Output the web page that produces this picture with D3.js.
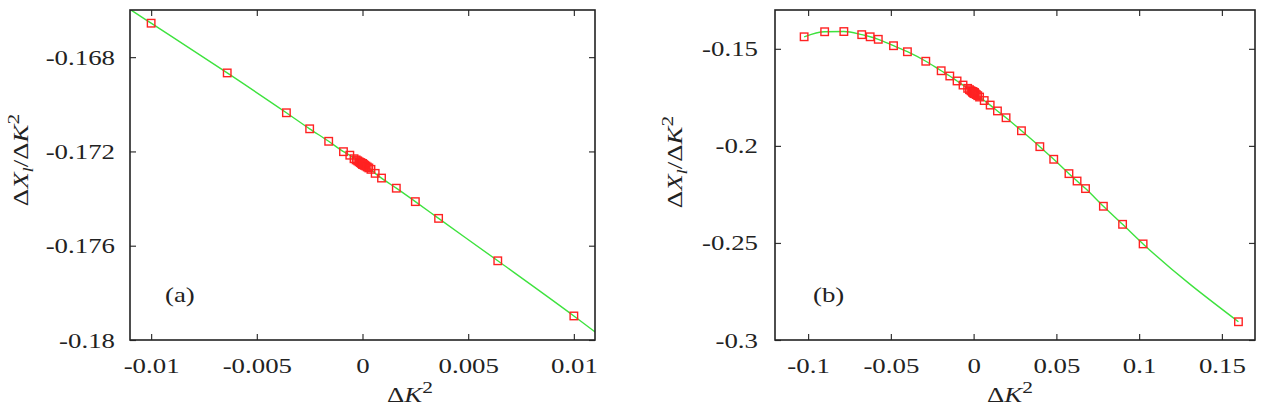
<!DOCTYPE html>
<html>
<head>
<meta charset="utf-8">
<script src="https://cdn.jsdelivr.net/npm/d3@7"></script>
<style>
  body { margin: 0; background: #fff; }
  svg { display: block; }
</style>
</head>
<body>
<div id="chart"></div>
<script>
// data: DeltaK^2 and DeltaX_l / DeltaK^2
var dk2 = [-0.1024, -0.09, -0.0784, -0.0676, -0.0625, -0.0576, -0.0484, -0.04, -0.0289, -0.0196, -0.0144,
  -0.01, -0.0064, -0.0036, -0.0025, -0.0016, -0.0009, -0.0006, -0.0004,
  -0.0003, -0.000225, -0.00016, -0.0001, -0.000064, -0.000036, -0.000016, -0.000004, 0,
  0.000004, 0.000016, 0.000036, 0.000064, 0.0001, 0.00016, 0.000225, 0.0003,
  0.0004, 0.0006, 0.0009, 0.0016, 0.0025, 0.0036, 0.0064, 0.01,
  0.0144, 0.0196, 0.0289, 0.04, 0.0484, 0.0576, 0.0625, 0.0676, 0.0784, 0.09, 0.1024, 0.16];
var ratio = [-0.1438, -0.1412, -0.1411, -0.1427, -0.1438, -0.1451, -0.1484, -0.1515, -0.1564, -0.1613, -0.1640,
  -0.16656, -0.16867, -0.17036, -0.17104, -0.17157, -0.17201, -0.17216, -0.17231,
  -0.17236, -0.1724, -0.17244, -0.17247, -0.17249, -0.17251, -0.17252, -0.17253, -0.17253,
  -0.17253, -0.17254, -0.17255, -0.17257, -0.17259, -0.17262, -0.17266, -0.1727,
  -0.17276, -0.17293, -0.17313, -0.17356, -0.17413, -0.17484, -0.17664, -0.17898,
  -0.1820, -0.1855, -0.1922, -0.2004, -0.2069, -0.2143, -0.2181, -0.2220, -0.2311, -0.2404, -0.2505, -0.2906];

var xTicksA = [-0.01, -0.005, 0, 0.005, 0.01];
var xTickLabelsA = ["-0.01", "-0.005", "0", "0.005", "0.01"];
var yTicksA = [-0.168, -0.172, -0.176, -0.18];
var yTickLabelsA = ["-0.168", "-0.172", "-0.176", "-0.18"];

var xTicksB = [-0.1, -0.05, 0, 0.05, 0.1, 0.15];
var xTickLabelsB = ["-0.1", "-0.05", "0", "0.05", "0.1", "0.15"];
var yTicksB = [-0.15, -0.2, -0.25, -0.3];
var yTickLabelsB = ["-0.15", "-0.2", "-0.25", "-0.3"];

var points = dk2.map((d, i) => ({ x: d, y: ratio[i] }));

var FONT = "'Liberation Serif', 'Times New Roman', Times, serif";
var FS = 22;
var STRETCH = 1.22; // the original lettering is a bit wider than Liberation Serif

var svg = d3.select("#chart").append("svg")
    .attr("width", 1275)
    .attr("height", 419);

function widen(sel) {
    sel.each(function() {
        var l = this.getComputedTextLength();
        d3.select(this).attr("textLength", l * STRETCH).attr("lengthAdjust", "spacingAndGlyphs");
    });
}

function drawPanel(o) {
    var x = d3.scaleLinear().domain(o.xDomain).range([o.left, o.right]);
    var y = d3.scaleLinear().domain(o.yDomain).range([o.bottom, o.top]);
    var g = svg.append("g");

    g.append("clipPath").attr("id", o.id)
      .append("rect")
      .attr("x", o.left).attr("y", o.top)
      .attr("width", o.right - o.left).attr("height", o.bottom - o.top);

    // ticks, inward, mirrored
    var fmtX = d => o.xLabels[o.xTicks.indexOf(d)];
    var fmtY = d => o.yLabels[o.yTicks.indexOf(d)];

    var ax = g.append("g").attr("transform", "translate(0," + o.bottom + ")")
      .call(d3.axisBottom(x).tickValues(o.xTicks).tickFormat(fmtX).tickSize(-6).tickPadding(17));
    var axTop = g.append("g").attr("transform", "translate(0," + o.top + ")")
      .call(d3.axisTop(x).tickValues(o.xTicks).tickFormat("").tickSize(-6));
    var ay = g.append("g").attr("transform", "translate(" + o.left + ",0)")
      .call(d3.axisLeft(y).tickValues(o.yTicks).tickFormat(fmtY).tickSize(-6).tickPadding(o.yPad));
    var ayR = g.append("g").attr("transform", "translate(" + o.right + ",0)")
      .call(d3.axisRight(y).tickValues(o.yTicks).tickFormat("").tickSize(-6));

    [ax, axTop, ay, ayR].forEach(a => {
        a.select(".domain").remove();
        a.selectAll("line").attr("stroke", "#333").attr("stroke-width", 1.2);
        a.selectAll("text").attr("font-family", FONT).attr("font-size", FS).attr("fill", "#222");
    });
    widen(ax.selectAll("text"));
    widen(ay.selectAll("text"));

    // fitted curve
    var line = d3.line().x(d => x(d.x)).y(d => y(d.y)).curve(d3.curveMonotoneX);
    g.append("path")
      .datum(points)
      .attr("clip-path", "url(#" + o.id + ")")
      .attr("fill", "none")
      .attr("stroke", "#3ee23e")
      .attr("stroke-width", 1.4)
      .attr("d", line);

    // data markers
    var vis = points.filter(d => d.x >= o.xDomain[0] && d.x <= o.xDomain[1]);
    g.append("g").attr("clip-path", "url(#" + o.id + ")")
      .selectAll("rect")
      .data(vis)
      .enter().append("rect")
      .attr("x", d => x(d.x) - 3.75)
      .attr("y", d => y(d.y) - 3.75)
      .attr("width", 7.5)
      .attr("height", 7.5)
      .attr("fill", "none")
      .attr("stroke", "#f22")
      .attr("stroke-width", 1.4);

    // frame
    g.append("rect")
      .attr("x", o.left).attr("y", o.top)
      .attr("width", o.right - o.left).attr("height", o.bottom - o.top)
      .attr("fill", "none").attr("stroke", "#222").attr("stroke-width", 1.6);

    // panel tag
    var tag = g.append("text")
      .attr("x", o.tagX).attr("y", o.tagY)
      .attr("font-family", FONT).attr("font-size", FS).attr("fill", "#222")
      .text(o.tag);
    widen(tag);

    // x label
    var xl = g.append("text")
      .attr("x", o.xLabelX).attr("y", 402)
      .attr("font-family", FONT).attr("font-size", FS).attr("fill", "#222");
    xl.append("tspan").text("\u0394");
    xl.append("tspan").attr("font-style", "italic").text("K");
    xl.append("tspan").attr("font-size", FS * 0.8).attr("dy", -9).text("2");
    widen(xl);

    // y label
    var yl = g.append("text")
      .attr("transform", "translate(" + o.yLabelX + "," + o.yLabelY + ") rotate(-90)")
      .attr("text-anchor", "middle")
      .attr("font-family", FONT).attr("font-size", FS).attr("fill", "#222");
    yl.append("tspan").text("\u0394");
    yl.append("tspan").attr("font-style", "italic").text("X");
    yl.append("tspan").attr("font-style", "italic").attr("font-size", FS * 0.7).attr("dy", 5).text("l");
    yl.append("tspan").attr("dy", -5).text("/\u0394");
    yl.append("tspan").attr("font-style", "italic").text("K");
    yl.append("tspan").attr("font-size", FS * 0.8).attr("dy", -9).text("2");
    widen(yl);
}

drawPanel({
    id: "clipA", left: 130, right: 595, top: 10, bottom: 340,
    xDomain: [-0.011, 0.011], yDomain: [-0.18, -0.166],
    xTicks: xTicksA, xLabels: xTickLabelsA, yTicks: yTicksA, yLabels: yTickLabelsA,
    yPad: 15, tag: "(a)", tagX: 165, tagY: 302,
    xLabelX: 387, yLabelX: 28, yLabelY: 160
});

drawPanel({
    id: "clipB", left: 775, right: 1255, top: 10, bottom: 340,
    xDomain: [-0.12, 0.17], yDomain: [-0.3, -0.13],
    xTicks: xTicksB, xLabels: xTickLabelsB, yTicks: yTicksB, yLabels: yTickLabelsB,
    yPad: 17, tag: "(b)", tagX: 813, tagY: 302,
    xLabelX: 987, yLabelX: 682, yLabelY: 162
});
</script>
</body>
</html>
